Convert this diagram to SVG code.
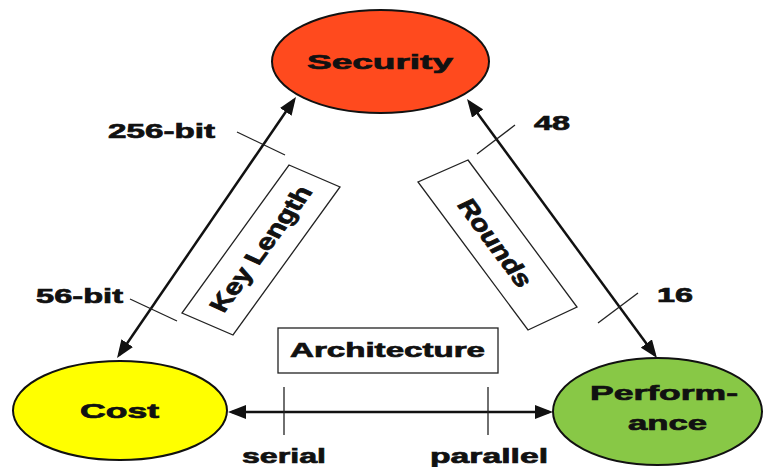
<svg xmlns="http://www.w3.org/2000/svg" width="763" height="467" viewBox="0 0 763 467">
<style>
  .node { stroke: #111; stroke-width: 2; }
  .lbl { font-family: "Liberation Sans", Arial, sans-serif; font-weight: bold; font-size: 21px; fill: #111; stroke: #111; stroke-width: 0.7; }
  .box { fill: #fff; stroke: #222; stroke-width: 1.3; }
  .tick { stroke: #222; stroke-width: 1.3; fill: none; }
  .arrow { stroke: #111; stroke-width: 2.5; fill: none; marker-start: url(#ah); marker-end: url(#ah); }
</style>
<defs>
  <marker id="ah" markerUnits="userSpaceOnUse" markerWidth="18" markerHeight="14" refX="14" refY="7" orient="auto-start-reverse" viewBox="0 0 18 14">
    <path d="M0,0 L18,7 L0,14 z" fill="#111"/>
  </marker>
</defs>
<rect width="763" height="467" fill="#fff"/>

<g id="connectors">
  <line class="arrow" x1="119.3" y1="354.7" x2="293.7" y2="100.3"/>
  <line class="arrow" x1="469.4" y1="102.2" x2="654.6" y2="354.8"/>
  <line class="arrow" x1="232" y1="412" x2="549" y2="412"/>
  <line class="tick" x1="237" y1="132" x2="285" y2="155"/>
  <line class="tick" x1="130" y1="299" x2="177" y2="321"/>
  <line class="tick" x1="477" y1="154" x2="515" y2="125"/>
  <line class="tick" x1="598" y1="323" x2="638" y2="293"/>
  <line class="tick" x1="284" y1="387" x2="284" y2="435"/>
  <line class="tick" x1="488" y1="387" x2="488" y2="435"/>
  <text class="lbl" x="108" y="138" textLength="107" lengthAdjust="spacingAndGlyphs">256-bit</text>
  <text class="lbl" x="36" y="303" textLength="87" lengthAdjust="spacingAndGlyphs">56-bit</text>
  <text class="lbl" x="534" y="130" textLength="36" lengthAdjust="spacingAndGlyphs">48</text>
  <text class="lbl" x="657" y="302" textLength="36" lengthAdjust="spacingAndGlyphs">16</text>
  <text class="lbl" x="242" y="463" textLength="84" lengthAdjust="spacingAndGlyphs">serial</text>
  <text class="lbl" x="430" y="463" textLength="118" lengthAdjust="spacingAndGlyphs">parallel</text>
</g>

<g id="key-length">
  <polygon class="box" points="289,165 340,187 233,335 182,313"/>
  <text class="lbl" font-size="20" text-anchor="middle" x="0" y="7" textLength="142" lengthAdjust="spacingAndGlyphs" transform="translate(261,249) scale(1.25,1) rotate(-59.7)">Key Length</text>
</g>

<g id="rounds">
  <polygon class="box" points="468,160 577,307 528,330 418,182"/>
  <text class="lbl" font-size="20" text-anchor="middle" x="0" y="7" textLength="98" lengthAdjust="spacingAndGlyphs" transform="translate(495,243) scale(1.25,1) rotate(59.3)">Rounds</text>
</g>

<g id="architecture">
  <rect class="box" x="278" y="328" width="220" height="45"/>
  <text class="lbl" x="290" y="357" textLength="195" lengthAdjust="spacingAndGlyphs">Architecture</text>
</g>

<g id="security">
  <ellipse class="node" cx="380.5" cy="61.5" rx="108.5" ry="51.5" fill="#FF4A1E"/>
  <text class="lbl" font-size="22" x="307" y="69" textLength="146" lengthAdjust="spacingAndGlyphs">Security</text>
</g>

<g id="cost">
  <ellipse class="node" cx="120" cy="410.5" rx="107" ry="49.5" fill="#FFFF00"/>
  <text class="lbl" x="80" y="418" textLength="79" lengthAdjust="spacingAndGlyphs">Cost</text>
</g>

<g id="performance">
  <ellipse class="node" cx="657.5" cy="411.5" rx="104.5" ry="53.5" fill="#88C846"/>
  <text class="lbl" x="590" y="400" textLength="148" lengthAdjust="spacingAndGlyphs">Perform-</text>
  <text class="lbl" x="628" y="430" textLength="79" lengthAdjust="spacingAndGlyphs">ance</text>
</g>
</svg>
